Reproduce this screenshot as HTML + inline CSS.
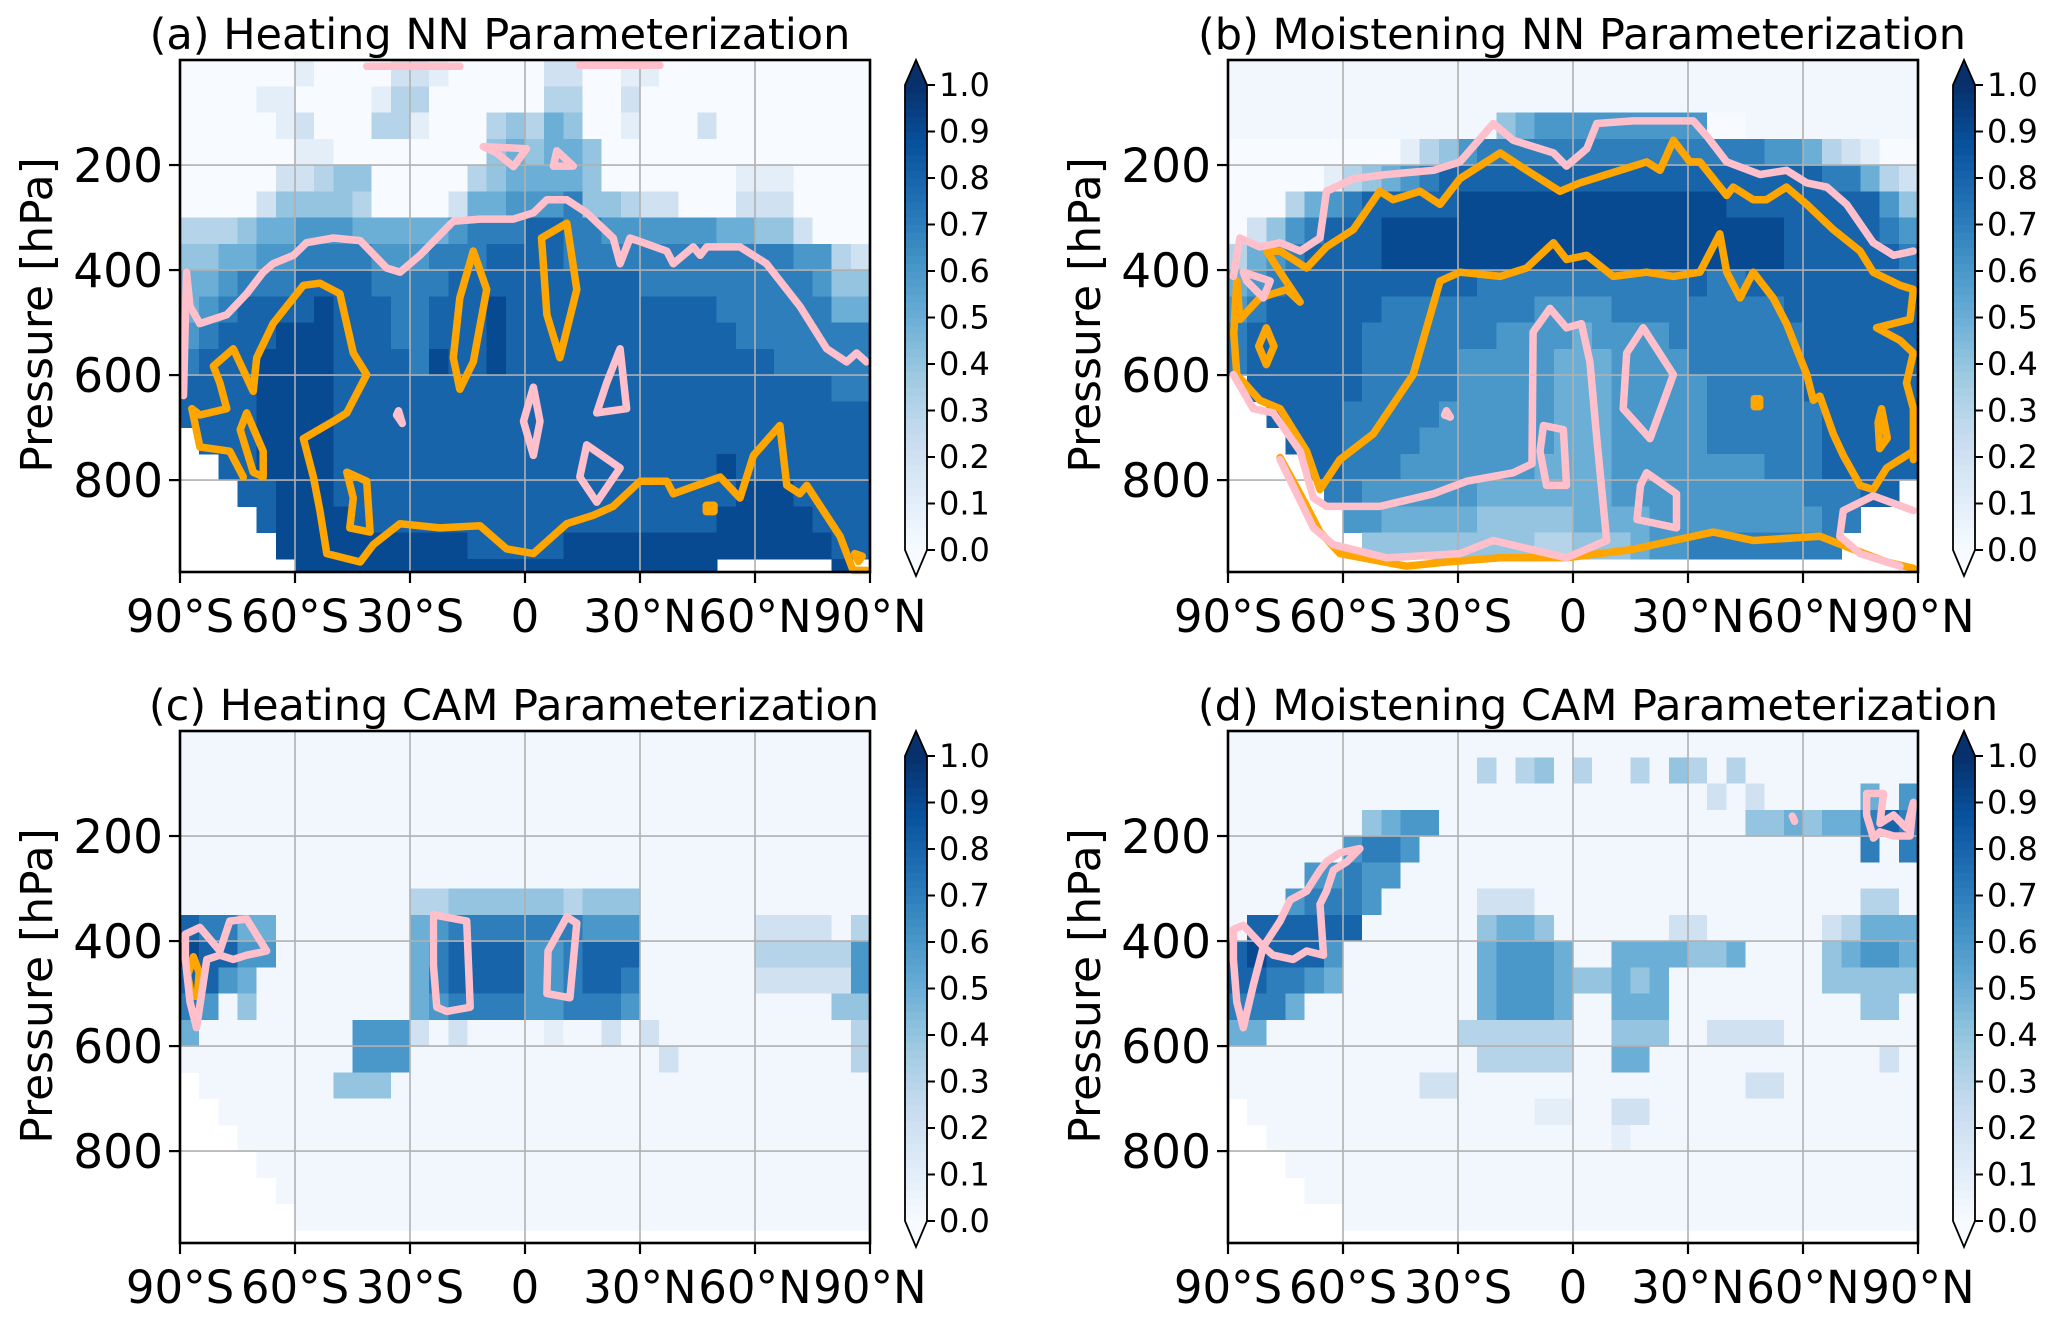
<!DOCTYPE html>
<html><head><meta charset="utf-8"><title>NN vs CAM parameterization</title>
<style>
html,body{margin:0;padding:0;background:#fff;}
svg{display:block;font-family:"DejaVu Sans","Liberation Sans",sans-serif;}
</style></head>
<body>
<svg id="fig" width="2067" height="1322" viewBox="0 0 2067 1322" xmlns="http://www.w3.org/2000/svg"></svg>
<script>
// ---------- data ----------
const latTicks = [-90, -60, -30, 0, 30, 60, 90];
const latTickLabels = ["90°S", "60°S", "30°S", "0", "30°N", "60°N", "90°N"];
const pTicks = [200, 400, 600, 800];
const cbTicks = [0.0, 0.1, 0.2, 0.3, 0.4, 0.5, 0.6, 0.7, 0.8, 0.9, 1.0];

const heatA = [
"000000100002210000022001100000000000",
"000011000013300000033002000000000000",
"000001200033100034354001000200000000",
"000000110000000045455400000000000000",
"000002234400000345555400000001110000",
"000024444300002556667443220002220000",
"333455666555556777887766666655442000",
"445566777766677788887777777777776632",
"556777888877778888888888777777777644",
"567888898887788898888888888877777755",
"678889998887788898888888888887777777",
"788899998888798898888888888888877777",
"888899998888888888888888888888888877",
"888899998888888888888888888888888888",
" 88899998888888888888888888888888888",
"  8899998888888888888888888898888888",
"   889998888888888888888888889998888",
"    89999888888888888888888899999888",
"     9999999999888889999999999999988",
"      9999999999999999999999      9 "
];
const heatB = [
"....................................",
"....................................",
"..............4566666666600.........",
"000000000134677777777777777766532100",
"000001345678888888888888888888877532",
"000356788888999999999999998888888864",
"024678889999999999999999999998888876",
"356788889999999999999999999998888887",
"567888888888877777777777877888888888",
"678888887777777766667777777778888888",
"788888877777776666566667777777888888",
"788888877777666665556666777777888888",
" 88888877777666665556666677777888888",
"  8888777776666665556666677777788888",
"   888777766666665556666677777788888",
"    88777666666655556666666677788888",
"     776666665555555666666666677788 ",
"      665555544444555566666666677   ",
"       4444444443344456677777777    ",
"                                    "
];
const heatC = [
"....................................",
"....................................",
"....................................",
"....................................",
"....................................",
"....................................",
"............334444443444............",
"87755.......567777777666......2222.3",
"98866.......578888667888......333336",
"8865........578888667887......222226",
"76.4........567777667776..........44",
"5........6662.2....1..2.2..........3",
".........666.............2.........3",
" .......444.........................",
"  ..................................",
"   .................................",
"    ................................",
"     ...............................",
"      ..............................",
"                                    "
];
const heatD = [
"....................................",
".............3.34.3..3.43.3.........",
".........................2.2.....5.6",
".......4566................445455787",
"......6776.......................7.7",
"....66766...........................",
"...67776.....222.................33.",
".888888......4554......22......23555",
"898886.......56665..5555445....45665",
"887765.......5666544545........44444",
"7775.........56665..555..........44",
"55..........333333..444..2222.......",
".............33333..55............2.",
"..........22...............22.......",
" ...............11..22..............",
"  ..................1...............",
"   .................................",
"    ................................",
"      ..............................",
"                                    "
];

// contours: arrays of [lat, pressure]
const pinkA1 = [[-89.1,639],[-88.3,404],[-87.4,469],[-84.8,502],[-77.8,485],[-72.6,445],[-68.3,404],[-65.7,388],[-60.4,372],[-57,348],[-50,339],[-43,344],[-36.1,396],[-32.6,404],[-27.4,372],[-18.7,307],[-11.7,303],[-3,303],[2.2,291],[5.7,266],[10.9,266],[16.1,291],[23,339],[24.8,388],[27.4,339],[37,364],[38.7,388],[43.9,356],[45.7,372],[47.4,356],[56.1,356],[63,388],[71.7,469],[78.7,550],[83.9,575],[86.5,558],[89.1,575]];
const pinkAloops = [
 [[-10.9,165],[0.4,169],[-3,203],[-7.4,177],[-10.9,165]],
 [[8.3,173],[12.6,202],[7.4,202],[8.3,173]],
 [[-33,668],[-32,692],[-33.5,676],[-33,668]],
 [[2.2,623],[3.9,688],[2.2,753],[-0.4,688],[2.2,623]],
 [[24.8,550],[26.5,664],[18.7,672],[21.3,615],[24.8,550]],
 [[16.1,733],[24.8,777],[18.7,842],[14.3,794],[16.1,733]],
 [[-41.3,12],[-17,12]],
 [[14.3,10],[35.2,10]]
];
const orangeA1 = [[-86.9,664],[-84.8,676],[-77.8,664],[-79.6,615],[-81.3,583],[-76.1,550],[-70.9,631],[-70,567],[-65.7,502],[-57.8,429],[-53.5,425],[-48.3,445],[-44.8,558],[-41.3,599],[-46.5,672],[-50,688],[-57.8,721],[-55.2,794],[-53.5,858],[-51.7,940],[-43,956],[-39.6,923],[-32.6,883],[-22.2,891],[-11.7,887],[-4.8,931],[2.2,940],[10.9,883],[17.8,867],[23,850],[30,802],[37,802],[38.7,826],[50.9,794],[56.1,834],[59.6,753],[66.5,696],[68.3,810],[71.7,826],[73.5,810],[82.2,907],[85.6,972],[89.1,972]];
const orangeAloops = [
 [[-86.9,664],[-84.8,737],[-77,745],[-73.5,794]],
 [[-72.6,672],[-68.3,745],[-68.3,794],[-70.9,785],[-74.3,704],[-72.6,672]],
 [[-46.5,785],[-41.3,802],[-40.4,899],[-45.7,891],[-44.8,834],[-46.5,785]],
 [[-13.5,364],[-10,437],[-13.5,575],[-17,627],[-18.7,567],[-17,453],[-13.5,364]],
 [[10.9,311],[13.5,437],[9.1,567],[5.7,485],[4.3,339],[10.9,311]],
 [[47.3,848],[49.3,848],[49.3,860],[47.3,860],[47.3,848]],
 [[86,940],[88,945],[87,955],[86,940]]
];
const pinkB1 = [[-88.6,412],[-86.9,339],[-81.7,356],[-76.4,348],[-71.2,364],[-66,339],[-64.3,250],[-57.3,226],[-48.6,218],[-36.4,210],[-29.5,194],[-20.8,121],[-15.6,153],[-5.1,177],[-1.7,202],[3.6,169],[6.2,121],[15.7,116],[31.4,116],[34.9,145],[40.1,194],[48.8,218],[55.7,210],[61,234],[66.2,242],[71.4,275],[78.3,348],[83.6,372],[88.8,364]];
const pinkB2 = [[-88.6,599],[-83.4,664],[-78.2,672],[-71.2,745],[-67.7,834],[-64.3,850],[-50.4,850],[-36.4,826],[-27.7,802],[-15.6,786],[-10.7,769],[-10.4,518],[-6,473],[-1.7,510],[2.2,502],[4.4,575],[6.2,721],[8.8,915],[-1.7,948],[-20.8,915],[-29.5,940],[-48.6,948],[-62.5,923],[-67.7,891],[-76.4,761]];
const pinkBloops = [
 [[-86,404],[-79,421],[-80.8,453],[-85.1,421],[-86,404]],
 [[-7.7,696],[-2.5,704],[-1.7,810],[-6.9,810],[-8.6,745],[-7.7,696]],
 [[18.3,510],[26.2,599],[20.1,721],[13.1,664],[14,558],[18.3,510]],
 [[19.2,786],[27,826],[27,891],[16.7,875],[17.6,810],[19.2,786]],
 [[88.8,858],[78.3,830],[70.5,858],[69.6,907],[74.9,940],[85.3,964]],
 [[-33,668],[-32,680],[-33.5,676],[-33,668]]
];
const orangeB1 = [[-87.7,421],[-86.9,494],[-81.7,453],[-74.7,437],[-71.2,461],[-76.4,404],[-79.9,364],[-76.4,364],[-69.5,396],[-64.3,356],[-57.3,323],[-50.4,250],[-46.9,266],[-39.9,250],[-34.7,275],[-29.5,226],[-19,177],[-12.1,210],[-3.4,250],[1.8,234],[8.8,218],[19.2,194],[22.7,210],[26.2,153],[30.5,194],[33.1,194],[40.1,258],[41.8,242],[47,266],[50.5,266],[55.7,242],[61,275],[67.9,323],[74.9,364],[78.3,404],[85.3,429],[88.8,437],[87.9,494],[79.2,510],[85.3,534],[88.8,558],[87,615],[88.8,664],[88.8,761]];
const orangeB2 = [[-87.7,421],[-88.5,520],[-87.7,599],[-81.7,648],[-76.4,664],[-69.5,745],[-66,818],[-60.8,761],[-52.1,712],[-41.7,599],[-34.7,421],[-29.5,404],[-19,412],[-12.1,396],[-5.1,348],[-1.7,380],[3.6,372],[10.5,412],[19.2,404],[26.2,412],[33.1,404],[38.3,331],[40.1,404],[43.6,453],[47,404],[52.2,453],[55.7,502],[61,599],[62.7,648],[64.4,640],[67.9,712],[70.5,753],[74.9,810],[78.3,818],[81.8,777],[85.3,761],[88.8,745]];
const orangeB3 = [[-76.4,757],[-71.2,826],[-66,899],[-60.8,940],[-43.4,964],[-33,956],[-19,948],[-1.7,948],[15.7,932],[26.2,915],[36.6,899],[47,915],[64.4,907],[73.1,932],[81.8,956],[88.8,968]];
const orangeBloops = [
 [[-80,510],[-78,545],[-80,580],[-82,545],[-80,510]],
 [[47.3,645],[48.7,645],[48.7,660],[47.3,660],[47.3,645]],
 [[80.5,664],[82,720],[80,740],[79.6,690],[80.5,664]]
];
const pinkC = [
 [[-88.6,387],[-84.8,374],[-79.6,419],[-77,362],[-72.6,358],[-67.4,419],[-72.6,427],[-76.1,435],[-79.6,427],[-83,435],[-85.7,565],[-87.4,516],[-88.6,435],[-88.6,387]],
 [[-23.9,350],[-15.2,362],[-14.3,526],[-20.4,534],[-23,526],[-23.9,445],[-23.9,350]],
 [[10.9,354],[13.5,366],[11.7,508],[5.7,500],[6,419],[10.9,354]]
];
const orangeC = [[[-86.5,430],[-85,460],[-85.5,505],[-87,505],[-88,465],[-86.5,430]]];
const pinkD = [
 [[-88.6,378],[-86,370],[-80.8,411],[-76.4,362],[-73.8,322],[-69.5,305],[-66,265],[-64.3,249],[-60.8,232],[-55.6,224],[-59,249],[-62.5,265],[-64.3,305],[-66,330],[-65.1,427],[-69.5,419],[-73,435],[-78.2,427],[-80.8,411],[-83.4,484],[-86,565],[-87.7,516],[-88.6,435],[-88.6,378]],
 [[76.6,119],[81,119],[80.1,176],[83.6,160],[87,185],[88.8,136],[87.9,200],[83.6,200],[80.1,192],[78.4,204],[76.6,160],[76.6,119]],
 [[57.2,162],[57.8,172]]
];

// ---------- layout ----------
const NS = "http://www.w3.org/2000/svg";
const svg = document.getElementById("fig");
const PW = 690, PH = 512, PMAX = 975;
const panels = [
 {key:"a", x:180,  y:60,  title:"(a) Heating NN Parameterization",     tx:500,  heat:heatA, pink:[pinkA1].concat(pinkAloops), orange:[orangeA1].concat(orangeAloops)},
 {key:"b", x:1228, y:60,  title:"(b) Moistening NN Parameterization",  tx:1582, heat:heatB, pink:[pinkB1,pinkB2].concat(pinkBloops), orange:[orangeB1,orangeB2,orangeB3].concat(orangeBloops)},
 {key:"c", x:180,  y:731, title:"(c) Heating CAM Parameterization",    tx:514,  heat:heatC, pink:pinkC, orange:orangeC},
 {key:"d", x:1228, y:731, title:"(d) Moistening CAM Parameterization", tx:1598, heat:heatD, pink:pinkD, orange:[]}
];

const blues = [[247,251,255],[222,235,247],[198,219,239],[158,202,225],[107,174,214],[66,146,198],[33,113,181],[8,81,156],[8,48,107]];
function bluesColor(v){
  v = Math.max(0, Math.min(1, v));
  const t = v*(blues.length-1), i = Math.min(blues.length-2, Math.floor(t)), f = t-i;
  const c = blues[i].map((a,k)=>Math.round(a+(blues[i+1][k]-a)*f));
  return "rgb("+c.join(",")+")";
}
function charVal(ch){
  if (ch === " ") return null;
  if (ch === ".") return 0.03;
  return parseInt(ch,10)/10;
}
function mk(tag, attrs, parent){
  const e = document.createElementNS(NS, tag);
  for (const k in attrs) e.setAttribute(k, attrs[k]);
  (parent||svg).appendChild(e);
  return e;
}

panels.forEach(P=>{
  const xs = lat => P.x + (lat+90)/180*PW;
  const ys = p => P.y + p/PMAX*PH;
  const g = mk("g", {});
  
  

  const hg = mk("g", {"shape-rendering":"crispEdges"}, g);
  
  
  P.heat.forEach((row, i)=>{
    const r = row.padEnd(36, ".");
    const p0 = i*50, p1 = Math.min(PMAX, (i+1)*50);
    for (let j=0;j<36;j++){
      const v = charVal(r[j]);
      if (v === null) continue;
      const lat0 = -90 + 5*j;
      const cell = mk("rect", {x:xs(lat0), y:ys(p0), width:xs(lat0+5)-xs(lat0)+0.6, height:ys(p1)-ys(p0)+0.6, fill:bluesColor(v)}, hg);
      
      
    }
  });

  latTicks.forEach(l=>{
    if (l===-90||l===90) return;
    const gl = mk("line", {x1:xs(l), x2:xs(l), y1:P.y, y2:P.y+PH, stroke:"#b0b0b0", "stroke-width":1.6}, g);
    
    
  });
  pTicks.forEach(p=>{
    const gl = mk("line", {x1:P.x, x2:P.x+PW, y1:ys(p), y2:ys(p), stroke:"#b0b0b0", "stroke-width":1.6}, g);
    
    
  });

  const drawLines = (list, color, name) => list.forEach(pts=>{
    const d = pts.map((q,k)=>(k?"L":"M")+xs(q[0]).toFixed(1)+" "+ys(q[1]).toFixed(1)).join(" ");
    const path = mk("path", {d:d, fill:"none", stroke:color, "stroke-width":7.5, "stroke-linejoin":"round", "stroke-linecap":"round"}, g);
    
    
  });
  drawLines(P.orange, "#ffa500", "contour-orange");
  drawLines(P.pink, "#ffc0cb", "contour-pink");

  const fr = mk("rect", {x:P.x, y:P.y, width:PW, height:PH, fill:"none", stroke:"#000", "stroke-width":2.6}, g);
  
  

  latTicks.forEach((l,k)=>{
    const t = mk("line", {x1:xs(l), x2:xs(l), y1:P.y+PH, y2:P.y+PH+11, stroke:"#000", "stroke-width":2.2}, g);
    
    
    const tl = mk("text", {x:xs(l), y:P.y+PH+60, "text-anchor":"middle", "font-size":45, fill:"#000"}, g);
    tl.textContent = latTickLabels[k];
    
    
  });
  pTicks.forEach(p=>{
    const t = mk("line", {x1:P.x-11, x2:P.x, y1:ys(p), y2:ys(p), stroke:"#000", "stroke-width":2.2}, g);
    
    
    const tl = mk("text", {x:P.x-17, y:ys(p)+17, "text-anchor":"end", "font-size":47, fill:"#000"}, g);
    tl.textContent = String(p);
    
    
  });
  const yl = mk("text", {x:0, y:0, "text-anchor":"middle", "font-size":44, fill:"#000", transform:"translate("+(P.x-128)+","+(P.y+255)+") rotate(-90)"}, g);
  yl.textContent = "Pressure [hPa]";
  
  
  const ti = mk("text", {x:P.tx, y:P.y-11, "text-anchor":"middle", "font-size":43, fill:"#000"}, g);
  ti.textContent = P.title;
  
  

  const cx = P.x + PW + 35, cw = 22, cTop = P.y + 25, cBot = P.y + 490;
  const cg = mk("g", {}, g);
  
  
  const N = 60;
  for (let i=0;i<N;i++){
    const v0 = i/N;
    const yy = cBot - (i+1)/N*(cBot-cTop);
    const seg = mk("rect", {x:cx, y:yy, width:cw, height:(cBot-cTop)/N+0.6, fill:bluesColor(v0+0.5/N)}, cg);
    
    
  }
  const up = mk("path", {d:"M"+cx+" "+cTop+" L"+(cx+cw/2)+" "+(cTop-25)+" L"+(cx+cw)+" "+cTop+" Z", fill:"#08306b"}, cg);
  
  
  const dn = mk("path", {d:"M"+cx+" "+cBot+" L"+(cx+cw/2)+" "+(cBot+26)+" L"+(cx+cw)+" "+cBot+" Z", fill:"#f7fbff"}, cg);
  
  
  const ol = mk("path", {d:"M"+cx+" "+cTop+" L"+(cx+cw/2)+" "+(cTop-25)+" L"+(cx+cw)+" "+cTop+" L"+(cx+cw)+" "+cBot+" L"+(cx+cw/2)+" "+(cBot+26)+" L"+cx+" "+cBot+" Z", fill:"none", stroke:"#000", "stroke-width":1.8}, cg);
  
  
  cbTicks.forEach(v=>{
    const yy = cBot - v*(cBot-cTop);
    const t = mk("line", {x1:cx+cw, x2:cx+cw+8, y1:yy, y2:yy, stroke:"#000", "stroke-width":2}, cg);
    
    
    const tl = mk("text", {x:cx+cw+12, y:yy+11, "font-size":32, fill:"#000"}, cg);
    tl.textContent = v.toFixed(1);
    
    
  });
});
</script>
</body></html>
